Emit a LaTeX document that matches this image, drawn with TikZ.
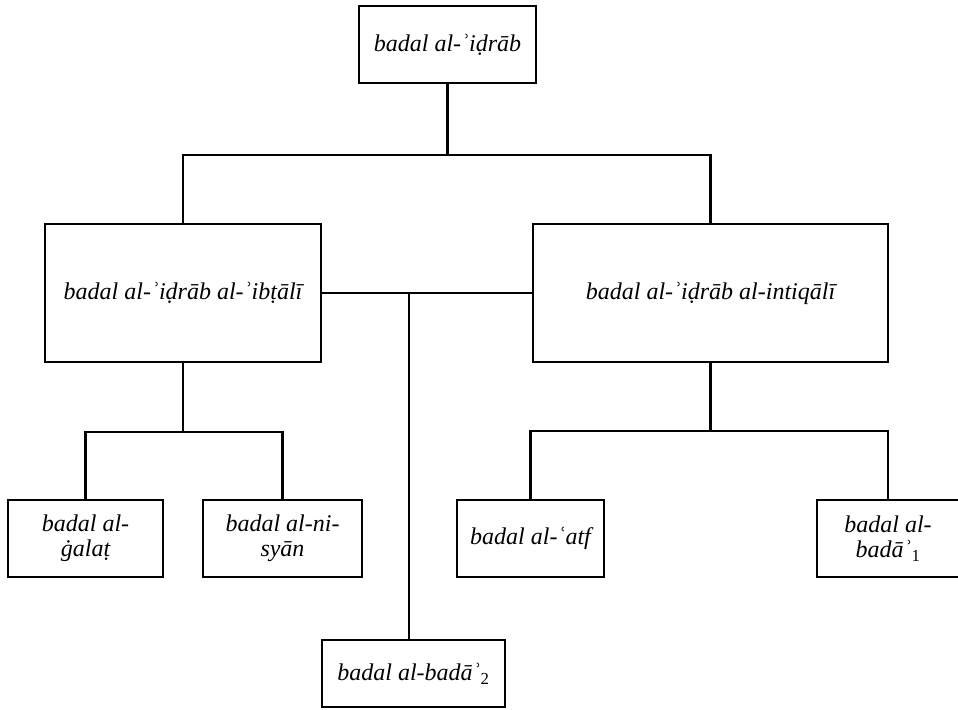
\documentclass[tikz,border=0pt]{standalone}
\usepackage{fontspec}
\setmainfont{Liberation Serif}
\begin{document}
\begin{tikzpicture}[x=1bp,y=-1bp,
  box/.style={draw=black, line width=2.2bp, fill=white, inner sep=0pt, align=center,
    font=\fontsize{24bp}{25bp}\selectfont\itshape},
  conn/.style={draw=black, line width=2.2bp}]
\useasboundingbox (0,0) rectangle (958,710);
% nodes
\node[box, minimum width=177bp, minimum height=77bp] (top) at (447.5,44.5) {badal al-ʾiḍrāb};
\node[box, minimum width=276bp, minimum height=138bp] (lm) at (183,293) {badal al-ʾiḍrāb al-ʾibṭālī};
\node[box, minimum width=355bp, minimum height=138bp] (rm) at (710.5,293) {badal al-ʾiḍrāb al-intiqālī};
\node[box, minimum width=155bp, minimum height=77bp] (gal) at (85.5,538.5) {badal al-\\ġalaṭ};
\node[box, minimum width=159bp, minimum height=77bp] (nis) at (282.5,538.5) {badal al-ni-\\syān};
\node[box, minimum width=147bp, minimum height=77bp] (atf) at (530.5,538.5) {badal al-ʿatf};
\node[box, minimum width=142bp, minimum height=77bp] (bd1) at (888,538.5) {badal al-\\badāʾ\textsubscript{\upshape 1}};
\node[box, minimum width=183bp, minimum height=67bp] (bd2) at (413.5,673.5) {badal al-badāʾ\textsubscript{\upshape 2}};
% junction coordinates
\coordinate (t1) at (447,155);
\coordinate (l1) at (183,432);
\coordinate (r1) at (711,431);
\coordinate (j) at (409,293);
% connectors
\draw[conn] (top.south) -- (top.south |- t1);
\draw[conn] (lm.north) |- (t1) -| (rm.north);
\draw[conn] (lm.east) -- (rm.west);
\draw[conn] (j) -- (j |- bd2.north);
\draw[conn] (lm.south) -- (l1);
\draw[conn] (gal.north) |- (l1) -| (nis.north);
\draw[conn] (rm.south) -- (rm.south |- r1);
\draw[conn] (atf.north) |- (r1) -| (bd1.north);
\end{tikzpicture}
\end{document}
